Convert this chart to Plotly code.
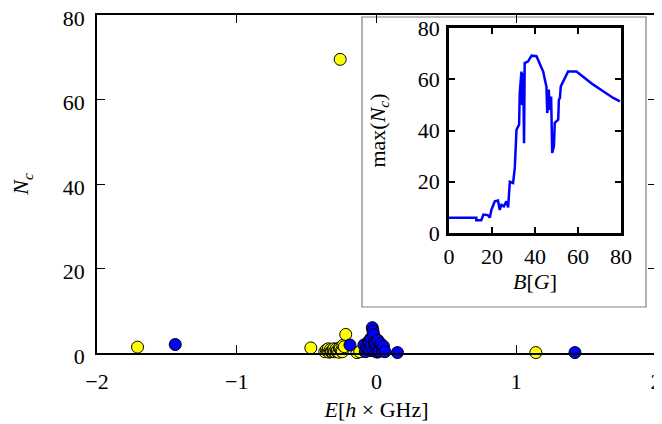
import plotly.graph_objects as go

# Main scatter: yellow series
yellow_E = [-1.71, -0.47, -0.37, -0.36, -0.35, -0.345, -0.34, -0.33, -0.325, -0.32, -0.31,
            -0.305, -0.30, -0.29, -0.285, -0.28, -0.27, -0.265, -0.26, -0.25, -0.245,
            -0.24, -0.23, -0.22, -0.26, -0.14, -0.12, 1.14]
yellow_N = [1.4, 1.2, 0.3, 0.7, 0.5, 1.0, 0.2, 0.8, 0.3, 0.4, 0.6,
            1.0, 0.3, 0.9, 0.4, 0.5, 0.2, 1.2, 1.0, 0.6, 0.3,
            1.8, 1.5, 4.4, 69.5, 0.1, 0.3, 0.1]

# Main scatter: blue series
blue_E = [-1.44, -0.19, -0.09, -0.08, -0.07, -0.06, -0.055, -0.05, -0.045, -0.04, -0.035,
          -0.03, -0.025, -0.02, -0.02, -0.015, -0.01, 0.0, 0.005, 0.01, 0.02, 0.03,
          0.05, 0.06, 0.15, 1.42]
blue_N = [2.0, 1.9, 1.9, 0.3, 1.4, 1.0, 2.8, 2.5, 0.6, 3.5, 1.8,
          6.0, 5.2, 4.3, 0.5, 2.6, 2.0, 1.2, 0.2, 3.0, 0.4, 2.2,
          1.6, 0.3, 0.1, 0.1]

# Inset: max(N_c) vs B
inset_B = [0, 12.7, 12.7, 15, 16, 18, 19, 19.7, 21.3, 22.8, 23.6, 24.4, 25.5, 26.7, 27.5,
           28.3, 29.8, 30.6, 31.4, 32.6, 32.9, 33.7, 34.0, 34.5, 34.9, 35.0, 35.2, 36.8,
           38.4, 40.7, 42.2, 43.8, 44.6, 45.3, 45.7, 46.4, 46.9, 47.5, 48.0, 48.8, 49.2,
           50.8, 51.1, 51.6, 52.0, 53.4, 55.4, 59.3, 62.4, 67.1, 71.7, 76.4, 79.5]
inset_N = [6.0, 6.0, 5.0, 5.0, 7.2, 7.0, 6.0, 9.0, 12.4, 12.7, 9.0, 11.0, 10.4, 12.4, 10.0,
           20.0, 19.5, 25.4, 40.3, 42.3, 54.6, 63.0, 50.0, 62.4, 35.0, 62.0, 66.3, 67.0,
           69.2, 69.0, 66.3, 63.0, 59.8, 57.2, 46.8, 56.0, 48.0, 53.3, 31.2, 33.8, 43.0,
           44.2, 52.0, 52.7, 57.2, 59.8, 63.0, 63.0, 61.0, 57.9, 55.3, 52.7, 51.4]

FONT = "Liberation Serif"
FS = 22
OFF = 8  # page body offset
W, H = 662 - OFF, 424 - OFF
ml, mt = 97 - OFF, 15 - OFF
mr = W - (656 - OFF)
mb = H - (353 - OFF)
pw = W - ml - mr
ph = H - mt - mb

def px(xp):
    return (xp - OFF - ml) / pw

def py(yp):
    return (H - mb - (yp - OFF)) / ph

fig = go.Figure()
fig.add_trace(go.Scatter(x=yellow_E, y=yellow_N, mode="markers", cliponaxis=False,
                         marker=dict(size=12, color="#ffff00", line=dict(color="black", width=1)),
                         xaxis="x", yaxis="y", showlegend=False))
fig.add_trace(go.Scatter(x=blue_E, y=blue_N, mode="markers", cliponaxis=False,
                         marker=dict(size=12, color="#0000ff", line=dict(color="black", width=1)),
                         xaxis="x", yaxis="y", showlegend=False))
fig.add_trace(go.Scatter(x=inset_B, y=inset_N, mode="lines",
                         line=dict(color="#0000ff", width=2.5),
                         xaxis="x2", yaxis="y2", showlegend=False))

axis_common = dict(showline=True, linecolor="black", mirror="ticks", ticks="inside",
                   tickcolor="black", showgrid=False, zeroline=False, automargin=False,
                   ticklabeloverflow="allow",
                   tickfont=dict(family=FONT, size=FS, color="black"))

fig.update_layout(
    width=W, height=H,
    margin=dict(l=ml, r=mr, t=mt, b=mb, autoexpand=False),
    paper_bgcolor="white", plot_bgcolor="white",
    font=dict(family=FONT, size=FS, color="black"),
    xaxis=dict(range=[-2, 2], tickvals=[-2, -1, 0, 1, 2], ticklen=8, tickwidth=1.2,
               linewidth=1.5, domain=[0, 1], ticklabelstandoff=8,
               title=dict(text="<i>E</i>[<i>h</i> × GHz]", standoff=8,
                          font=dict(family=FONT, size=FS)), **axis_common),
    yaxis=dict(range=[0, 80], tickvals=[0, 20, 40, 60, 80], ticklen=8, tickwidth=1.2,
               linewidth=1.5, domain=[0, 1], ticklabelstandoff=6, ticklabelshift=3,
               title=dict(text="<i>N</i><sub><i>c</i></sub>", standoff=29,
                          font=dict(family=FONT, size=FS)), **axis_common),
    xaxis2=dict(range=[0, 80], tickvals=[0, 20, 40, 60, 80], ticklen=6, tickwidth=2,
                linewidth=2.5, anchor="y2", domain=[px(449), px(621)], ticklabelstandoff=2,
                title=dict(text="<i>B</i>[<i>G</i>]", standoff=6,
                           font=dict(family=FONT, size=FS)), **axis_common),
    yaxis2=dict(range=[0, 80], tickvals=[0, 20, 40, 60, 80], ticklen=6, tickwidth=2,
                linewidth=2.5, anchor="x2", domain=[py(233), py(28)], ticklabelstandoff=2,
                title=dict(text="max(<i>N</i><sub><i>c</i></sub>)", standoff=27,
                           font=dict(family=FONT, size=FS)), **axis_common),
    shapes=[dict(type="rect", xref="paper", yref="paper", layer="below",
                 x0=px(362), x1=px(646), y0=py(307), y1=py(17),
                 fillcolor="white", line=dict(color="#808080", width=1.2))],
)

fig.write_html("out.html")
